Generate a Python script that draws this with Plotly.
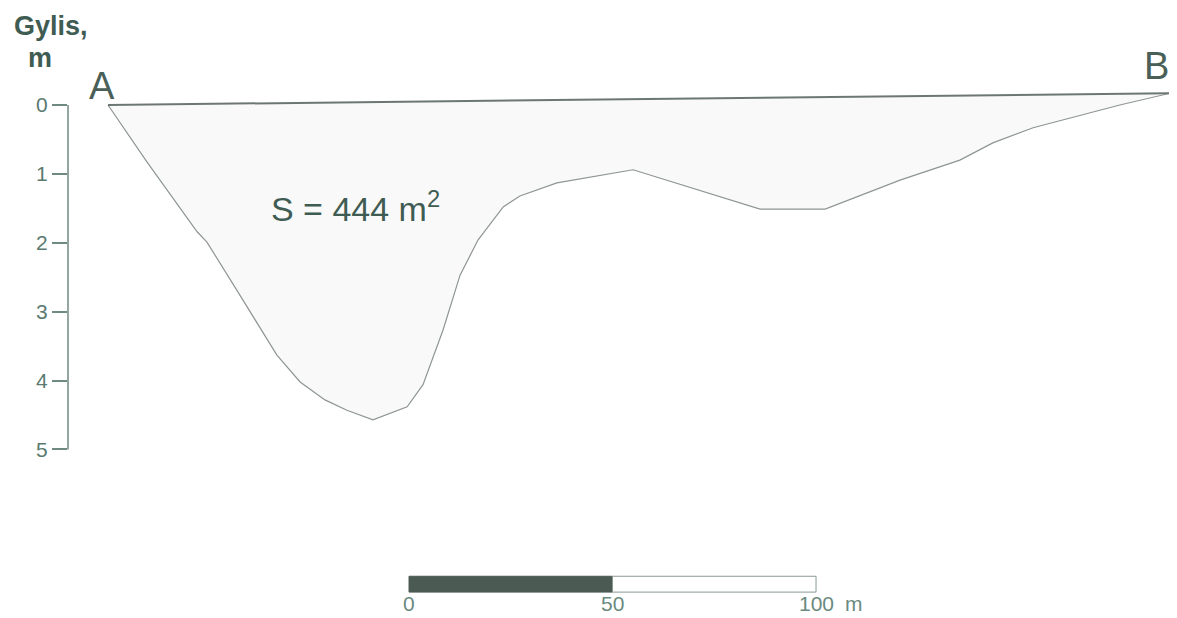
import plotly.graph_objects as go

# Profile of the lake bottom (distance from A, metres; depth, metres)
distance_m = [0, 9.6, 21.9, 24.3, 32.4, 41.5, 47.2, 53.3, 58.7, 65.1, 73.5, 77.4,
              82.3, 86.5, 90.9, 97.1, 101.2, 110.3, 129.0, 160.2, 176.2, 194.6,
              209.3, 217.4, 227.3, 248.6, 260.9]
depth_m = [0, 0.83, 1.84, 1.99, 2.76, 3.63, 4.02, 4.28, 4.43, 4.57, 4.38, 4.06,
           3.27, 2.47, 1.96, 1.48, 1.32, 1.13, 0.94, 1.51, 1.51, 1.09,
           0.80, 0.55, 0.33, 0.0, -0.17]
# Water surface line A -> B
surface_dist = [0, 260.9]
surface_depth = [0, -0.17]
point_labels = ["A", "B"]
depth_ticks = [0, 1, 2, 3, 4, 5]
scale_marks = [0, 50, 100]
area_text = "S = 444 m<sup>2</sup>"

TEXT = "#3f5c53"
AXIS = "#6f8a81"
FONT = "Liberation Sans, Arial"

fig = go.Figure()

# filled cross-section
fig.add_trace(go.Scatter(
    x=distance_m, y=depth_m, mode="lines", fill="toself",
    fillcolor="#f9f9f9", line=dict(color="#8e9692", width=1.2),
    hoverinfo="skip", showlegend=False))

# surface line
fig.add_trace(go.Scatter(
    x=surface_dist, y=surface_depth, mode="lines",
    line=dict(color="#6c7773", width=2), hoverinfo="skip", showlegend=False))

# y axis line drawn from 0 to 5 m only
fig.add_shape(type="line", xref="paper", yref="y", x0=0, x1=0,
              y0=depth_ticks[0], y1=depth_ticks[-1],
              line=dict(color=AXIS, width=1.5))

# scale bar
sb_x0 = 73.96
sb_top, sb_bot = 6.84, 7.07
fig.add_shape(type="rect", xref="x", yref="y",
              x0=sb_x0 + scale_marks[0], x1=sb_x0 + scale_marks[1],
              y0=sb_top, y1=sb_bot, fillcolor="#4b5a53",
              line=dict(color="#4b5a53", width=1))
fig.add_shape(type="rect", xref="x", yref="y",
              x0=sb_x0 + scale_marks[1], x1=sb_x0 + scale_marks[2],
              y0=sb_top, y1=sb_bot, fillcolor="white",
              line=dict(color="#8a9992", width=1))

annotations = []
for m in scale_marks:
    annotations.append(dict(x=sb_x0 + m, y=7.24, xref="x", yref="y",
                            text=str(m), showarrow=False, xanchor="center",
                            font=dict(size=21, color="#6a8a80", family=FONT)))
annotations.append(dict(x=sb_x0 + scale_marks[-1] + 9.3, y=7.24, xref="x", yref="y",
                        text="m", showarrow=False, xanchor="center",
                        font=dict(size=21, color="#6a8a80", family=FONT)))

# point labels A and B
annotations.append(dict(x=-1.5, y=-0.28, xref="x", yref="y", text=point_labels[0],
                        showarrow=False, xanchor="center",
                        font=dict(size=38, color="#4a5f58", family=FONT)))
annotations.append(dict(x=257.7, y=-0.57, xref="x", yref="y",
                        text=point_labels[1], showarrow=False, xanchor="center",
                        font=dict(size=38, color="#4a5f58", family=FONT)))

# axis title (outside the plot area -> paper x)
annotations.append(dict(x=-0.0153, y=-1.15, xref="paper", yref="y", text="<b>Gylis,</b>",
                        showarrow=False, xanchor="center",
                        font=dict(size=27, color=TEXT, family=FONT)))
annotations.append(dict(x=-0.0252, y=-0.68, xref="paper", yref="y", text="<b>m</b>",
                        showarrow=False, xanchor="center",
                        font=dict(size=27, color=TEXT, family=FONT)))

# area label
annotations.append(dict(x=60.9, y=1.47, xref="x", yref="y", text=area_text,
                        showarrow=False, xanchor="center",
                        font=dict(size=34, color=TEXT, family=FONT)))

fig.update_layout(
    width=1169, height=610,
    template="none",
    paper_bgcolor="white", plot_bgcolor="white",
    margin=dict(l=60, r=0, t=0, b=0, pad=0),
    showlegend=False,
    annotations=annotations,
    xaxis=dict(range=[-9.83, 262.65], visible=False, showgrid=False,
               zeroline=False, automargin=False),
    yaxis=dict(range=[7.446, -1.408], tickvals=depth_ticks,
               ticktext=[str(t) for t in depth_ticks],
               ticks="outside", ticklen=15, tickwidth=1.5, tickcolor=AXIS,
               showline=False, showgrid=False, zeroline=False,
               tickfont=dict(size=21, color="#5a7a70", family=FONT),
               automargin=False),
)

fig.write_html("out.html")
